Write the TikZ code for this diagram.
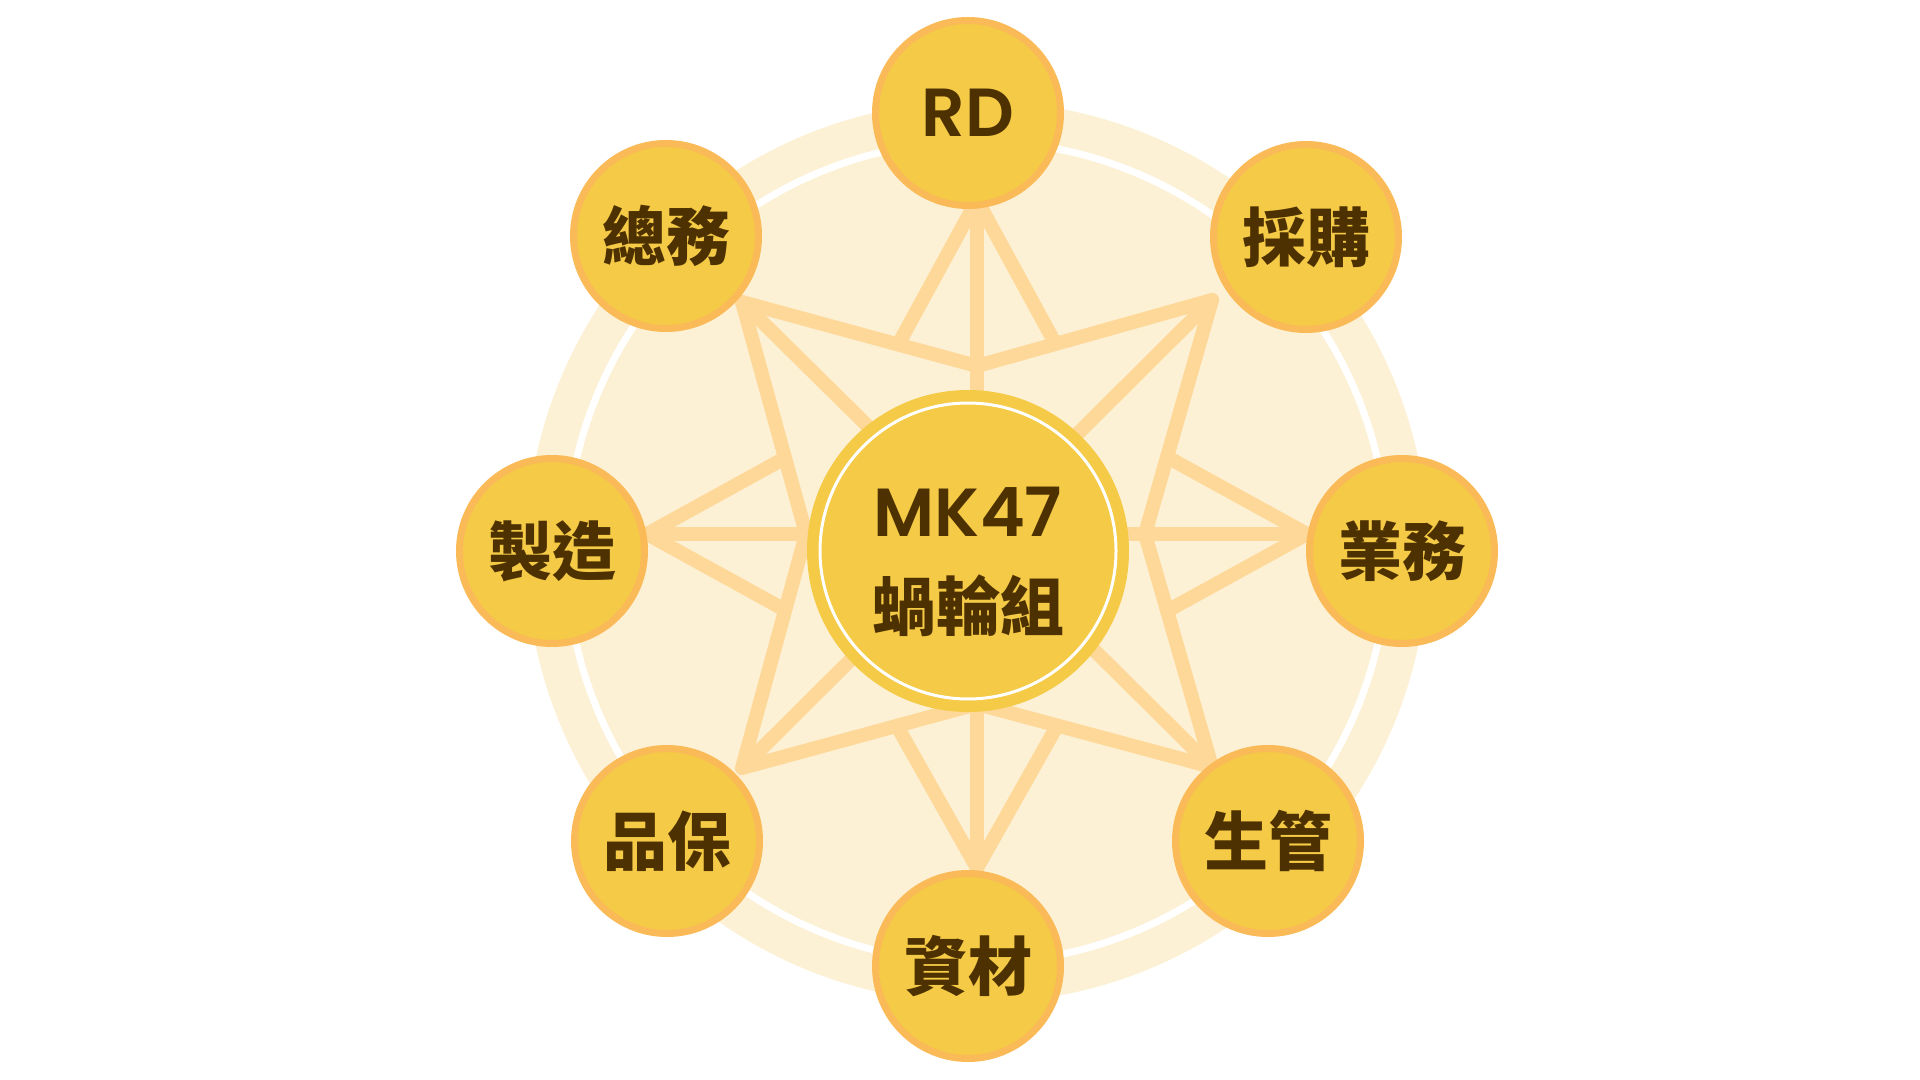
\documentclass[tikz,border=0pt]{standalone}
\usepackage{fontspec}
\newfontfamily\pop{Poppins}[BoldFont={Poppins SemiBold}]
\newfontfamily\cjk{Noto Sans CJK TC}[BoldFont={Noto Sans CJK TC Black}]
\definecolor{bgfill}{HTML}{FDF1D5}
\definecolor{starcol}{HTML}{FDD898}
\definecolor{nodefill}{HTML}{F4CA46}
\definecolor{nodeborder}{HTML}{FBBA58}
\definecolor{textcol}{HTML}{4E3100}
\tikzset{
  sat/.style={circle, fill=nodefill, draw=nodeborder, line width=3.5pt,
    minimum size=92.5pt, inner sep=0pt, text=textcol,
    font=\cjk\bfseries\fontsize{32pt}{32pt}\selectfont},
  latin/.style={font=\pop\bfseries\fontsize{34pt}{34pt}\selectfont},
  hubnode/.style={circle, fill=nodefill, minimum size=161pt, inner sep=0pt},
  hubtext/.style={inner sep=0pt, text=textcol},
  starline/.style={draw=starcol, line width=7pt, line join=round, line cap=round}
}
\begin{document}
\begin{tikzpicture}[x=0.5pt,y=-0.5pt]
\useasboundingbox (0,0) rectangle (1920,1080);
% background disc and white ring
\fill[bgfill] (977,552) circle[radius=225.5pt];
\draw[white, line width=3.5pt] (977,552) circle[radius=205.5pt];
% star geometry
\coordinate (S) at (977,534);
\coordinate (T) at (977,200);
\coordinate (R) at (1307,534);
\coordinate (B) at (977,868);
\coordinate (L) at (647,534);
\coordinate (TL) at (742,302);
\coordinate (TR) at (1212,300);
\coordinate (BR) at (1212,767);
\coordinate (BL) at (742,768);
\coordinate (iT) at (977,366);
\coordinate (iR) at (1145,534);
\coordinate (iB) at (977,704);
\coordinate (iL) at (806,534);
\coordinate (tA) at (899,343);
\coordinate (tB) at (1055,343);
\coordinate (rA) at (1167,457);
\coordinate (rB) at (1167,611);
\coordinate (bA) at (897,726);
\coordinate (bB) at (1057,726);
\coordinate (lA) at (785,458);
\coordinate (lB) at (785,610);
% spokes
\foreach \p in {T,R,B,L,TL,TR,BR,BL} \draw[starline] (\p) -- (S);
% diagonal star
\draw[starline] (TL) -- (iT) -- (TR) -- (iR) -- (BR) -- (iB) -- (BL) -- (iL) -- cycle;
% orthogonal spikes
\draw[starline] (tA) -- (T) -- (tB);
\draw[starline] (rA) -- (R) -- (rB);
\draw[starline] (bA) -- (B) -- (bB);
\draw[starline] (lA) -- (L) -- (lB);
% hub
\node[hubnode] (hub) at (968,551) {};
\draw[white, line width=1.5pt] (hub.center) circle[radius=74pt];
\node[hubtext, latin] (hubA) at (968,512) {MK47};
\node[hubtext, font=\cjk\bfseries\fontsize{32pt}{32pt}\selectfont] (hubB) at (968,606) {蝸輪組};
% satellites
\node[sat, latin] (rd) at (968,113) {RD};
\node[sat] (cg) at (1306,237) {採購};
\node[sat] (yw) at (1402,551) {業務};
\node[sat] (sg) at (1268,841) {生管};
\node[sat] (zc) at (968,966) {資材};
\node[sat] (pb) at (667,841) {品保};
\node[sat] (zz) at (552,551) {製造};
\node[sat] (zw) at (666,236) {總務};
\end{tikzpicture}
\end{document}
